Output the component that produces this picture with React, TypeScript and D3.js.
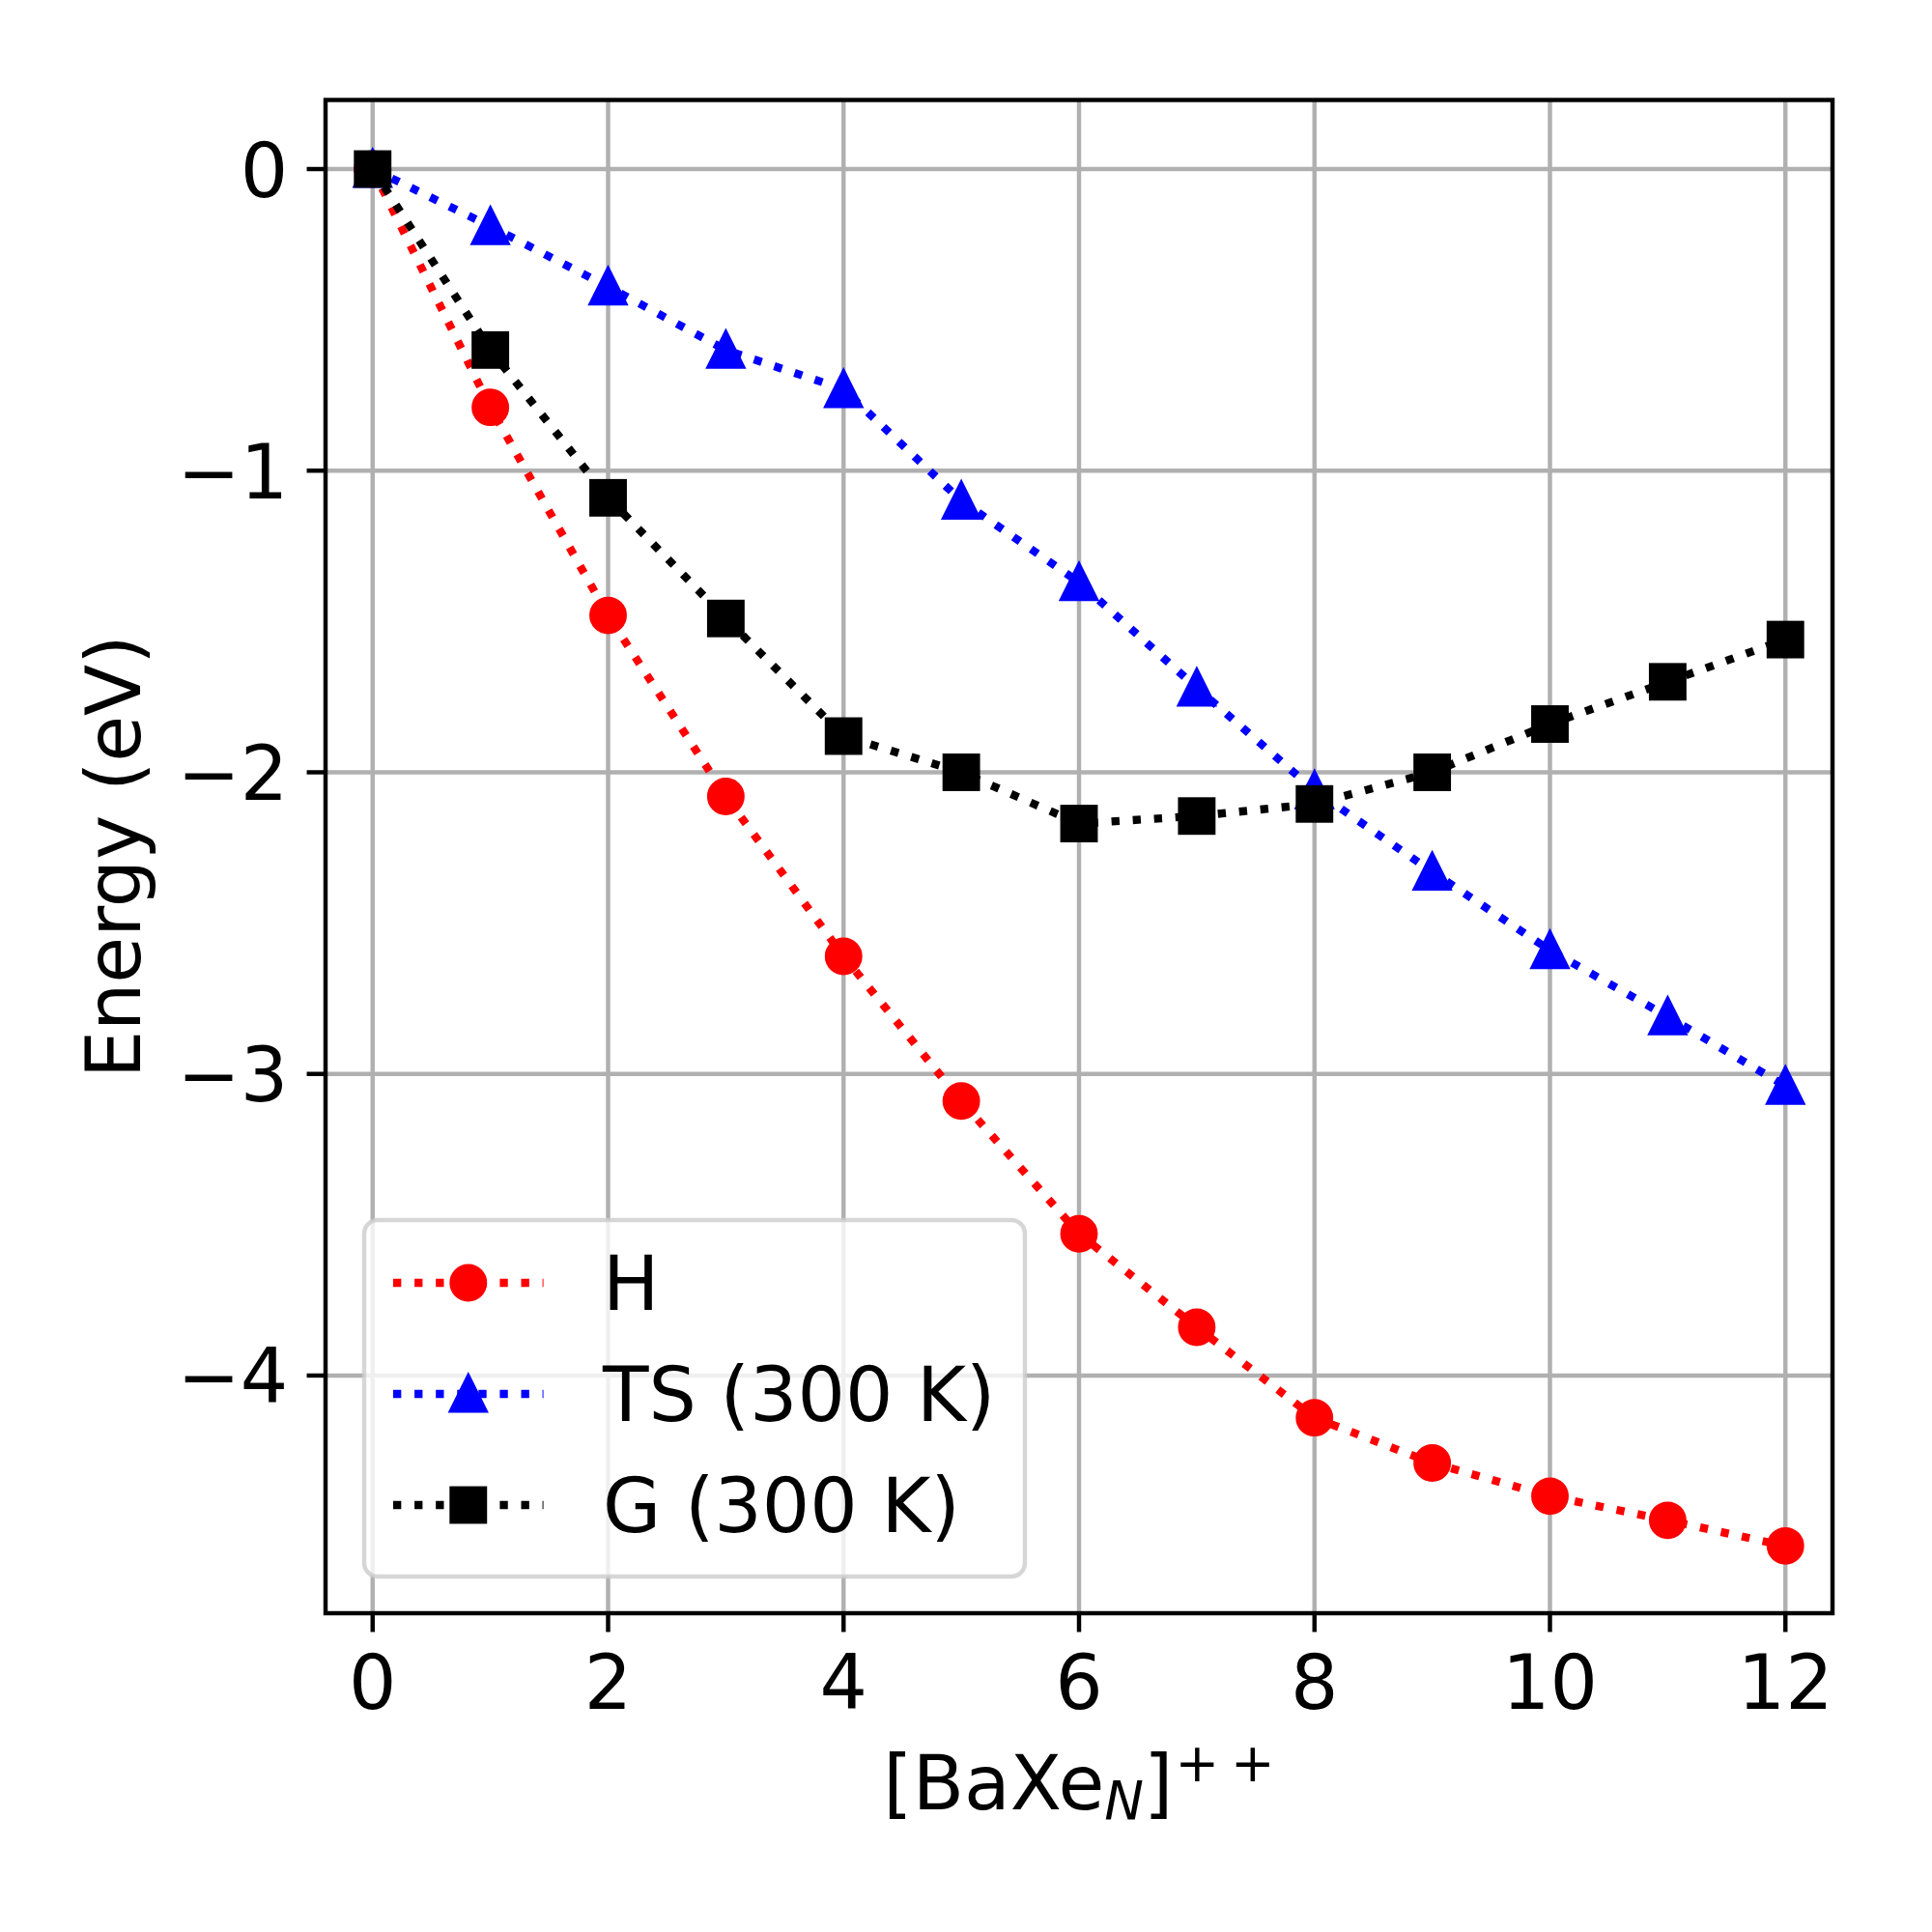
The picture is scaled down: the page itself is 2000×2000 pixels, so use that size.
import React, { useEffect, useRef } from 'react';
import * as d3 from 'd3';

// cluster size N
const sizes = [0, 1, 2, 3, 4, 5, 6, 7, 8, 9, 10, 11, 12];
// energies in eV
const enthalpy = [0, -0.79, -1.48, -2.08, -2.61, -3.09, -3.53, -3.84, -4.14, -4.29, -4.40, -4.48, -4.565];
const entropyTerm = [0, -0.19, -0.39, -0.60, -0.73, -1.10, -1.37, -1.72, -2.06, -2.33, -2.59, -2.81, -3.04];
const gibbs = [0, -0.60, -1.09, -1.49, -1.88, -2.00, -2.17, -2.145, -2.105, -2.00, -1.84, -1.70, -1.56];

const xTicks = [0, 2, 4, 6, 8, 10, 12];
const yTicks = [0, -1, -2, -3, -4];

const seriesLabels = ['H', 'TS (300 K)', 'G (300 K)'];
const seriesColors = ['#ff0000', '#0000ff', '#000000'];
const seriesMarkers = ['circle', 'triangle', 'square'];

const PT = 400 / 72;
const FONT = 'DejaVu Sans';
const FS = 14 * PT;

const App: React.FC = () => {
  const svgRef = useRef<SVGSVGElement>(null);

  useEffect(() => {
    if (!svgRef.current) return;
    const svg = d3.select(svgRef.current);
    svg.selectAll('*').remove();

    const left = 337, right = 1897, top = 103.5, bottom = 1670;
    const x = d3.scaleLinear().domain([-0.4, 12.4]).range([left, right]);
    const y = d3.scaleLinear().domain([-4.788, 0.229]).range([bottom, top]);

    const lw = 1.5 * PT;
    const ms = 6 * PT;
    const mew = 1 * PT;
    const dash = `${lw} ${1.65 * lw}`;

    svg.append('rect').attr('width', 2000).attr('height', 2000).attr('fill', 'white');

    // grid
    const grid = svg.append('g').attr('stroke', '#b0b0b0').attr('stroke-width', 0.8 * PT);
    grid.selectAll('line.gx').data(xTicks).enter().append('line')
      .attr('x1', d => x(d)).attr('x2', d => x(d)).attr('y1', top).attr('y2', bottom);
    grid.selectAll('line.gy').data(yTicks).enter().append('line')
      .attr('y1', d => y(d)).attr('y2', d => y(d)).attr('x1', left).attr('x2', right);

    const drawMarker = (g: any, kind: string, cx: number, cy: number, color: string) => {
      const h = ms / 2;
      if (kind === 'circle') {
        g.append('circle').attr('cx', cx).attr('cy', cy).attr('r', h)
          .attr('fill', color).attr('stroke', color).attr('stroke-width', mew);
      } else if (kind === 'triangle') {
        g.append('path')
          .attr('d', `M${cx},${cy - h}L${cx - h},${cy + h}L${cx + h},${cy + h}Z`)
          .attr('fill', color).attr('stroke', color).attr('stroke-width', mew)
          .attr('stroke-linejoin', 'miter').attr('stroke-miterlimit', 10);
      } else {
        g.append('rect').attr('x', cx - h).attr('y', cy - h).attr('width', ms).attr('height', ms)
          .attr('fill', color).attr('stroke', color).attr('stroke-width', mew)
          .attr('stroke-linejoin', 'miter');
      }
    };

    const allSeries = [enthalpy, entropyTerm, gibbs];
    const line = d3.line<number>().x((_, i) => x(sizes[i])).y(d => y(d));

    allSeries.forEach((vals, si) => {
      const g = svg.append('g');
      g.append('path').attr('d', line(vals)!)
        .attr('fill', 'none').attr('stroke', seriesColors[si]).attr('stroke-width', lw)
        .attr('stroke-dasharray', dash).attr('stroke-linecap', 'butt');
      vals.forEach((v, i) => drawMarker(g, seriesMarkers[si], x(sizes[i]), y(v), seriesColors[si]));
    });

    // spines
    svg.append('rect').attr('x', left).attr('y', top).attr('width', right - left).attr('height', bottom - top)
      .attr('fill', 'none').attr('stroke', 'black').attr('stroke-width', 0.8 * PT)
      .attr('stroke-linejoin', 'miter');

    // ticks
    const tickLen = 3.5 * PT;
    const ticks = svg.append('g').attr('stroke', 'black').attr('stroke-width', 0.8 * PT);
    ticks.selectAll('line.tx').data(xTicks).enter().append('line')
      .attr('x1', d => x(d)).attr('x2', d => x(d)).attr('y1', bottom).attr('y2', bottom + tickLen);
    ticks.selectAll('line.ty').data(yTicks).enter().append('line')
      .attr('y1', d => y(d)).attr('y2', d => y(d)).attr('x1', left).attr('x2', left - tickLen);

    const fmt = (d: number) => (d < 0 ? '\u2212' + Math.abs(d) : String(d));

    svg.append('g').selectAll('text').data(xTicks).enter().append('text')
      .attr('x', d => x(d)).attr('y', 1769)
      .attr('text-anchor', 'middle').attr('font-family', FONT).attr('font-size', FS)
      .text(d => fmt(d));

    svg.append('g').selectAll('text').data(yTicks).enter().append('text')
      .attr('x', left - tickLen - 3.5 * PT).attr('y', d => y(d) + 28.5)
      .attr('text-anchor', 'end').attr('font-family', FONT).attr('font-size', FS)
      .text(d => fmt(d));

    // axis labels
    const xl = svg.append('text').attr('x', (left + right) / 2).attr('y', 1873)
      .attr('text-anchor', 'middle').attr('font-family', FONT).attr('font-size', FS);
    xl.append('tspan').text('[BaXe');
    xl.append('tspan').attr('font-style', 'italic').attr('font-size', FS * 0.7).attr('dy', 10).text('N');
    xl.append('tspan').attr('dy', -10).text(']');
    xl.append('tspan').attr('font-size', FS * 0.7).attr('dy', -29).attr('dx', 2).text('+');
    xl.append('tspan').attr('font-size', FS * 0.7).attr('dx', 12).text('+');

    svg.append('text')
      .attr('transform', `translate(145,${(top + bottom) / 2}) rotate(-90)`)
      .attr('text-anchor', 'middle').attr('font-family', FONT).attr('font-size', FS)
      .text('Energy (eV)');

    // legend
    const lg = svg.append('g');
    lg.append('rect').attr('x', 377).attr('y', 1263).attr('width', 1061 - 377).attr('height', 1632 - 1263)
      .attr('rx', 14).attr('ry', 14)
      .attr('fill', 'white').attr('fill-opacity', 0.8)
      .attr('stroke', '#cccccc').attr('stroke-opacity', 0.8).attr('stroke-width', 0.8 * PT);

    const rowY = [1328, 1443, 1558];
    seriesLabels.forEach((label, si) => {
      const ry = rowY[si];
      lg.append('line').attr('x1', 407).attr('x2', 407 + 2 * FS).attr('y1', ry).attr('y2', ry)
        .attr('stroke', seriesColors[si]).attr('stroke-width', lw)
        .attr('stroke-dasharray', dash).attr('stroke-linecap', 'butt');
      drawMarker(lg, seriesMarkers[si], 407 + FS, ry, seriesColors[si]);
      lg.append('text').attr('x', 624).attr('y', ry + 28)
        .attr('font-family', FONT).attr('font-size', FS).text(label);
    });
  }, []);

  return (
    <svg
      ref={svgRef}
      width={2000}
      height={2000}
      style={{ position: 'absolute', left: 0, top: 0 }}
    />
  );
};

export default App;
